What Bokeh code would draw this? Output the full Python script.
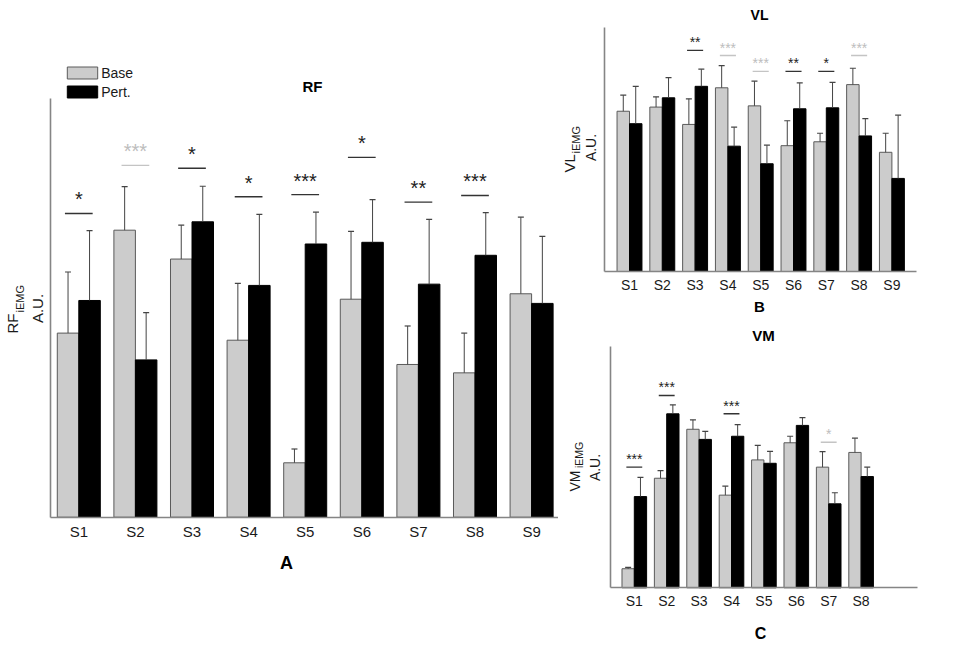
import math
from bokeh.plotting import figure
from bokeh.models import (ColumnDataSource, Range1d, FixedTicker, Whisker, TeeHead,
                          Legend, LegendItem)
from bokeh.layouts import row, column
from bokeh.embed import file_html
from bokeh.resources import INLINE
from bokeh.core.properties import value

FONT = "Liberation Sans"

# ---------------- data (A.U.) ----------------
# Panel A : RF
rf_subjects = ["S1", "S2", "S3", "S4", "S5", "S6", "S7", "S8", "S9"]
rf_base = [44.0, 68.6, 61.7, 42.3, 13.0, 52.1, 36.5, 34.5, 53.4]
rf_base_sd = [14.6, 10.4, 8.1, 13.6, 3.3, 16.2, 9.2, 9.5, 18.3]
rf_pert = [51.8, 37.6, 70.6, 55.4, 65.3, 65.7, 55.7, 62.6, 51.1]
rf_pert_sd = [16.7, 11.3, 8.5, 17.0, 7.6, 10.2, 15.5, 10.2, 16.0]
rf_sig_subject = ["S1", "S2", "S3", "S4", "S5", "S6", "S7", "S8"]
rf_sig_height = [72.6, 84.1, 83.4, 76.6, 77.1, 86.0, 75.3, 76.9]
rf_sig_stars = ["*", "***", "*", "*", "***", "*", "**", "***"]
rf_sig_faded = [False, True, False, False, False, False, False, False]

# Panel B : VL
vl_subjects = ["S1", "S2", "S3", "S4", "S5", "S6", "S7", "S8", "S9"]
vl_base = [65.6, 67.3, 60.2, 75.2, 67.8, 51.5, 53.1, 76.5, 48.8]
vl_base_sd = [6.6, 4.2, 10.5, 9.1, 10.1, 10.2, 3.5, 6.7, 7.8]
vl_pert = [60.5, 71.1, 75.8, 51.3, 44.1, 66.6, 67.0, 55.5, 38.1]
vl_pert_sd = [15.3, 8.3, 7.0, 7.8, 7.6, 10.6, 10.4, 7.1, 25.9]
vl_sig_subject = ["S3", "S4", "S5", "S6", "S7", "S8"]
vl_sig_height = [90.5, 88.4, 81.9, 81.9, 81.9, 88.4]
vl_sig_stars = ["**", "***", "***", "**", "*", "***"]
vl_sig_faded = [False, True, True, False, False, True]

# Panel C : VM
vm_subjects = ["S1", "S2", "S3", "S4", "S5", "S6", "S7", "S8"]
vm_base = [7.9, 45.4, 65.7, 38.4, 53.0, 60.1, 50.0, 56.1]
vm_base_sd = [0.6, 3.2, 3.9, 3.7, 6.0, 2.7, 6.4, 5.9]
vm_pert = [37.8, 72.1, 61.5, 62.8, 51.6, 67.3, 34.8, 46.1]
vm_pert_sd = [8.0, 3.7, 3.3, 4.8, 4.9, 3.2, 4.6, 3.9]
vm_sig_subject = ["S1", "S2", "S4", "S7"]
vm_sig_height = [50.0, 79.7, 72.1, 60.3]
vm_sig_stars = ["***", "***", "***", "*"]
vm_sig_faded = [False, False, False, True]

GRAY_FILL = "#cccccc"
GRAY_LINE = "#5a5a5a"
ERR_COLOR = "#444444"
AXIS_COLOR = "#858585"
TEXT_COLOR = "#1a1a1a"
SIG_DARK = "#333333"
SIG_FADED = "#c4c4c4"


def make_panel(subjects, base, base_sd, pert, pert_sd,
               sig_subj, sig_h, sig_stars, sig_faded, g):
    # page-pixel -> data mapping for this panel (figure frame == whole figure)
    def fx(px):
        return 1 + (px - g["s1_px"]) / g["cat_px"]

    def fy(py):
        return (g["base_px"] - py) / g["unit_px"]

    p = figure(width=g["w"], height=g["h"],
               x_range=Range1d(fx(g["left"]), fx(g["left"] + g["w"])),
               y_range=Range1d(fy(g["top"] + g["h"]), fy(g["top"])),
               min_border=0, min_border_left=0, min_border_right=0,
               min_border_top=0, min_border_bottom=0,
               output_backend="svg", toolbar_location=None)
    p.outline_line_color = None
    p.xgrid.visible = False
    p.ygrid.visible = False
    p.background_fill_color = "white"
    p.border_fill_color = "white"

    w = 0.38
    idx = [i + 1 for i in range(len(subjects))]
    src = ColumnDataSource(dict(
        xb=[i - w / 2 for i in idx], xp=[i + w / 2 for i in idx],
        base=base, pert=pert,
        base_hi=[b + s for b, s in zip(base, base_sd)],
        pert_hi=[b + s for b, s in zip(pert, pert_sd)],
    ))
    rb = p.vbar(x="xb", top="base", bottom=0, width=w, source=src,
                fill_color=GRAY_FILL, line_color=GRAY_LINE, line_width=1)
    rp = p.vbar(x="xp", top="pert", bottom=0, width=w, source=src,
                fill_color="black", line_color="black", line_width=1)
    for xcol, lo, hi in (("xb", "base", "base_hi"), ("xp", "pert", "pert_hi")):
        wk = Whisker(source=src, base=xcol, lower=lo, upper=hi, dimension="height",
                     line_color=ERR_COLOR, line_width=1, lower_head=None,
                     upper_head=TeeHead(size=6, line_color=ERR_COLOR, line_width=1.2),
                     level="glyph")
        p.add_layout(wk)

    sx = [subjects.index(s) + 1 for s in sig_subj]
    half = 0.245
    sig_src = ColumnDataSource(dict(
        x0=[x - half for x in sx], x1=[x + half for x in sx], x=sx,
        h=sig_h, stars=sig_stars,
        color=[SIG_FADED if f else SIG_DARK for f in sig_faded],
        tcolor=["#bdbdbd" if f else "#222222" for f in sig_faded],
    ))
    p.segment(x0="x0", y0="h", x1="x1", y1="h", source=sig_src,
              line_color="color", line_width=1.4)
    p.text(x="x", y="h", text="stars", source=sig_src, text_align="center",
           text_baseline="alphabetic", y_offset=g["star_off"],
           text_font=value(FONT), text_font_size=g["star_size"], text_color="tcolor")

    # axes drawn at fixed data locations inside the frame
    p.xaxis.fixed_location = 0
    p.xaxis.bounds = (fx(g["axis_left"]), fx(g["axis_right"]))
    p.xaxis.ticker = FixedTicker(ticks=idx)
    p.xaxis.major_label_overrides = {i: s for i, s in zip(idx, subjects)}
    p.xaxis.major_tick_line_color = None
    p.xaxis.minor_tick_line_color = None
    p.xaxis.major_tick_out = 0
    p.xaxis.major_tick_in = 0
    p.xaxis.major_label_standoff = g["lab_standoff"]
    p.xaxis.major_label_text_font = FONT
    p.xaxis.major_label_text_font_size = g["lab_size"]
    p.xaxis.major_label_text_color = TEXT_COLOR
    p.yaxis.fixed_location = fx(g["axis_left"])
    p.yaxis.bounds = (0, 100)
    p.yaxis.ticker = FixedTicker(ticks=[])
    p.yaxis.major_tick_line_color = None
    p.yaxis.minor_tick_line_color = None
    p.yaxis.major_tick_out = 0
    for ax in (p.xaxis, p.yaxis):
        ax.axis_line_color = AXIS_COLOR
        ax.axis_line_width = 1.6

    def txt(px, py, s, size, bold=False, align="center", angle=0.0):
        p.text(x=[fx(px)], y=[fy(py)], text=[s], angle=angle, text_align=align,
               text_baseline="middle", text_font=value(FONT), text_font_size=size,
               text_font_style="bold" if bold else "normal",
               text_color="black" if bold else TEXT_COLOR)

    txt(*g["title_xy"], g["title"], g["title_size"], bold=True)
    txt(*g["letter_xy"], g["letter"], g["letter_size"], bold=True)
    txt(*g["ylab_main"], g["title"], g["ylab_size"], align="left", angle=math.pi / 2)
    txt(*g["ylab_sub"], "iEMG", g["sub_size"], align="left", angle=math.pi / 2)
    txt(*g["ylab_au"], "A.U.", g["au_size"], align="center", angle=math.pi / 2)
    return p, rb, rp


SPLIT = 558   # page x where the right-hand column starts

geo_a = dict(left=0, top=0, w=SPLIT, h=641, s1_px=78.3, cat_px=56.6,
             base_px=516.7, unit_px=4.184, axis_left=50, axis_right=SPLIT,
             star_off=-14, star_size="20px", lab_standoff=6, lab_size="15px",
             title="RF", title_xy=(312, 86), title_size="15px",
             letter="A", letter_xy=(286, 562), letter_size="18px",
             ylab_main=(12, 333), ylab_sub=(19.5, 312), ylab_au=(37, 308),
             ylab_size="15px", sub_size="11px", au_size="15px")
geo_b = dict(left=SPLIT, top=0, w=948 - SPLIT, h=321, s1_px=629.0, cat_px=32.8,
             base_px=271.0, unit_px=2.443, axis_left=604.3, axis_right=916,
             star_off=-8, star_size="14px", lab_standoff=5, lab_size="14px",
             title="VL", title_xy=(759, 14), title_size="14px",
             letter="B", letter_xy=(759, 306), letter_size="15px",
             ylab_main=(569, 172), ylab_sub=(575, 153), ylab_au=(590, 147),
             ylab_size="15px", sub_size="11px", au_size="14px")
geo_c = dict(left=SPLIT, top=321, w=948 - SPLIT, h=320, s1_px=633.8, cat_px=32.4,
             base_px=587.3, unit_px=2.413, axis_left=610, axis_right=917,
             star_off=-8, star_size="14px", lab_standoff=5, lab_size="14px",
             title="VM", title_xy=(763, 335), title_size="15px",
             letter="C", letter_xy=(760, 633), letter_size="16px",
             ylab_main=(574.5, 491), ylab_sub=(578.5, 467.5), ylab_au=(594, 467),
             ylab_size="14px", sub_size="10.5px", au_size="14px")

pa, rb_a, rp_a = make_panel(rf_subjects, rf_base, rf_base_sd, rf_pert, rf_pert_sd,
                            rf_sig_subject, rf_sig_height, rf_sig_stars, rf_sig_faded, geo_a)
pb, _, _ = make_panel(vl_subjects, vl_base, vl_base_sd, vl_pert, vl_pert_sd,
                      vl_sig_subject, vl_sig_height, vl_sig_stars, vl_sig_faded, geo_b)
pc, _, _ = make_panel(vm_subjects, vm_base, vm_base_sd, vm_pert, vm_pert_sd,
                      vm_sig_subject, vm_sig_height, vm_sig_stars, vm_sig_faded, geo_c)

# legend box page position: left 63.2, bottom 99.5 (relative to frame bottom-left)
legend = Legend(items=[LegendItem(label="Base", renderers=[rb_a]),
                       LegendItem(label="Pert.", renderers=[rp_a])],
                location=(63.2, geo_a["h"] - 99.5), orientation="vertical",
                glyph_width=38, glyph_height=15, label_height=15, label_width=30,
                spacing=3, padding=0, margin=0, label_standoff=0,
                label_text_font=FONT, label_text_font_size="14px",
                label_text_color=TEXT_COLOR, border_line_color=None,
                background_fill_alpha=0)
pa.add_layout(legend, "center")

layout = row(pa, column(pb, pc))
open("out.html", "w").write(file_html(layout, INLINE))
